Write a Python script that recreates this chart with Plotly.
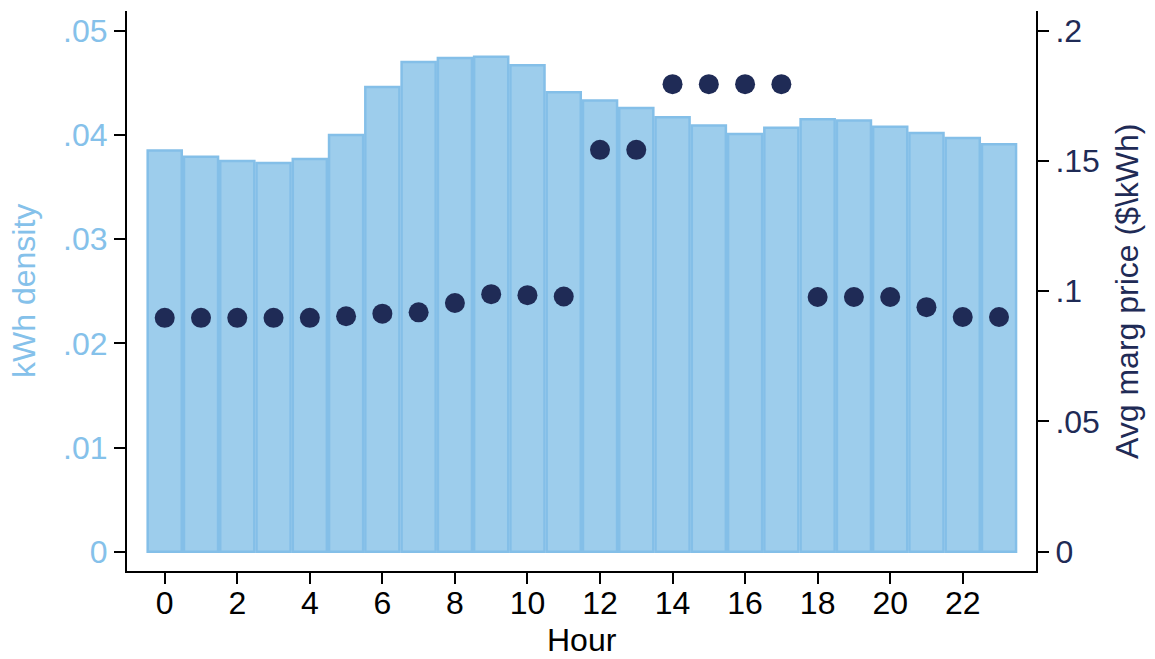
import plotly.graph_objects as go

hours = list(range(24))
kwh_density = [0.0385, 0.0379, 0.0375, 0.0373, 0.0377, 0.0400, 0.0446, 0.0470,
               0.0474, 0.0475, 0.0467, 0.0441, 0.0433, 0.0426, 0.0417, 0.0409,
               0.0401, 0.0407, 0.0415, 0.0414, 0.0408, 0.0402, 0.0397, 0.0391]
avg_price = [0.0898, 0.0898, 0.0898, 0.0898, 0.0898, 0.0904, 0.0914, 0.0919,
             0.0955, 0.0989, 0.0985, 0.0980, 0.1543, 0.1543, 0.1795, 0.1795,
             0.1795, 0.1795, 0.0978, 0.0978, 0.0978, 0.0939, 0.0901, 0.0901]

x_ticks = list(range(0, 24, 2))
y_left_ticks = [0, 0.01, 0.02, 0.03, 0.04, 0.05]
y_left_labels = ["0", ".01", ".02", ".03", ".04", ".05"]
y_right_ticks = [0, 0.05, 0.1, 0.15, 0.2]
y_right_labels = ["0", ".05", ".1", ".15", ".2"]

LIGHT = "#85C1EA"
NAVY = "#1F2B56"
FONT = "Liberation Sans, Arial, Helvetica, sans-serif"
FS = 32

fig = go.Figure()
fig.add_trace(go.Bar(
    x=hours, y=kwh_density, width=0.94,
    marker=dict(color="#9DCDEC", line=dict(color="#84BFE8", width=2.5)),
    yaxis="y", showlegend=False,
))
fig.add_trace(go.Scatter(
    x=hours, y=avg_price, mode="markers",
    marker=dict(color=NAVY, size=20, line=dict(width=0)),
    yaxis="y2", showlegend=False,
))

axis_common = dict(showgrid=False, zeroline=False, showline=True, linecolor="black",
                   linewidth=2, ticks="outside", ticklen=11, tickwidth=2, tickcolor="black")

fig.update_layout(
    width=1155, height=659,
    margin=dict(l=127, r=119, t=11, b=88, autoexpand=False),
    plot_bgcolor="white", paper_bgcolor="white",
    font=dict(family=FONT, size=FS, color="black"),
    xaxis=dict(range=[-1.04, 24.02], tickvals=x_ticks, tickfont=dict(size=FS, color="black"),
               ticklabelstandoff=-8, **axis_common),
    yaxis=dict(range=[-0.00185, 0.0519], tickvals=y_left_ticks, ticktext=y_left_labels,
               tickfont=dict(size=FS, color=LIGHT), **axis_common),
    yaxis2=dict(range=[-0.0074, 0.2076], tickvals=y_right_ticks, ticktext=y_right_labels,
                tickfont=dict(size=FS, color=NAVY), overlaying="y", side="right",
                **axis_common),
    annotations=[
        dict(text="Hour", xref="paper", yref="paper", x=0.5, y=0, xanchor="center",
             yanchor="middle", yshift=-69, showarrow=False, font=dict(size=FS, color="black")),
        dict(text="kWh density", xref="paper", yref="paper", x=0, y=0.5, xanchor="center",
             yanchor="middle", xshift=-103, textangle=-90, showarrow=False,
             font=dict(size=FS, color=LIGHT)),
        dict(text="Avg marg price ($\\kWh)", xref="paper", yref="paper", x=1, y=0.5,
             xanchor="center", yanchor="middle", xshift=91, textangle=-90, showarrow=False,
             font=dict(size=FS, color=NAVY)),
    ],
)

fig.write_html("out.html", config={"displayModeBar": False},
               post_script="document.body.style.margin='0';document.body.style.padding='0';")
